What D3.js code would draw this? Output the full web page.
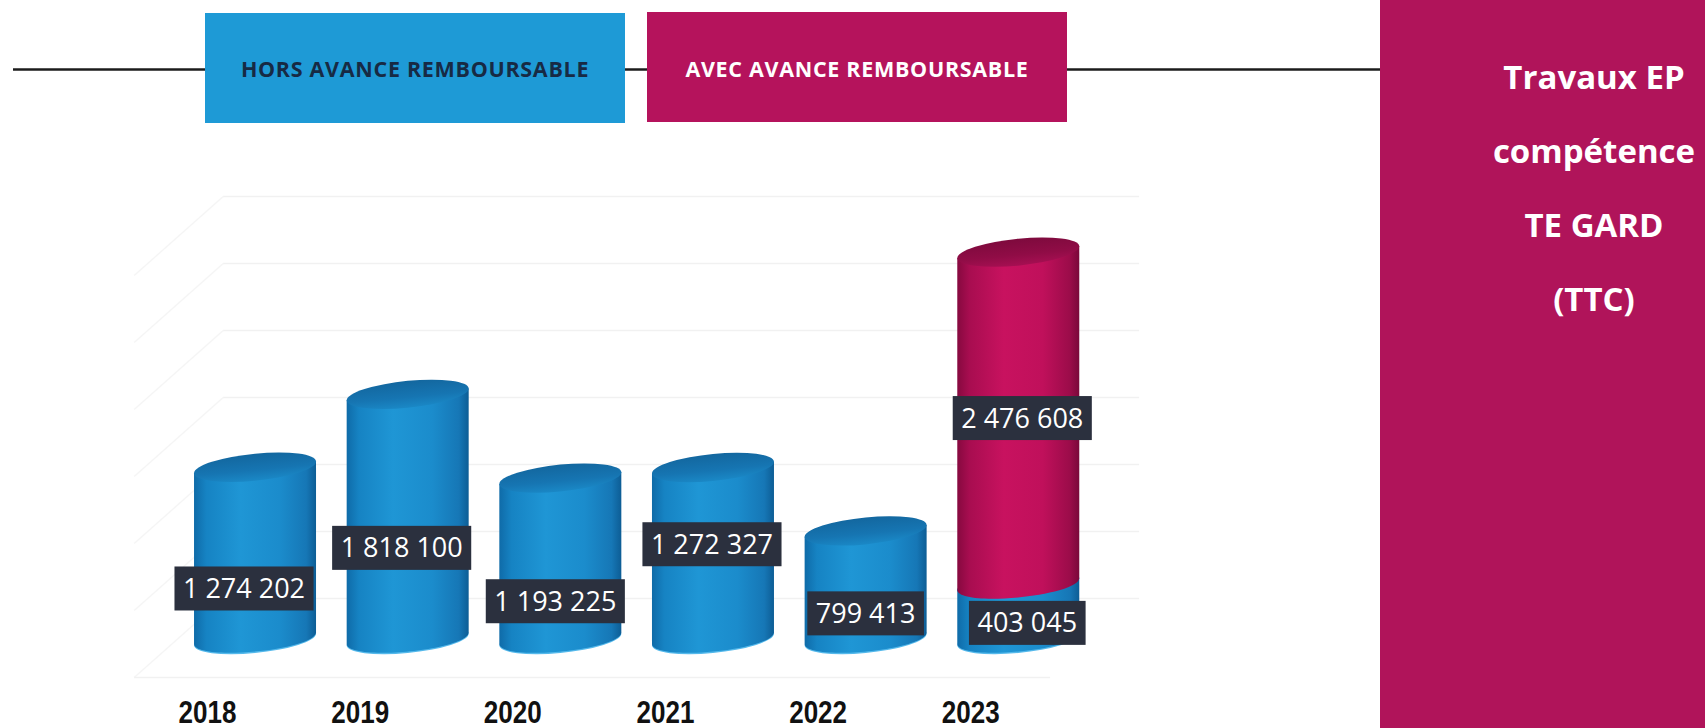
<!DOCTYPE html>
<html>
<head>
<meta charset="utf-8">
<script src="https://cdn.jsdelivr.net/npm/d3@7"></script>
<style>
  html, body { margin: 0; padding: 0; background: #ffffff; overflow: hidden; }
  svg { display: block; }
</style>
</head>
<body>
<svg id="chart" width="1705" height="728"></svg>
<script>
// ---- data ----
const years = ["2018", "2019", "2020", "2021", "2022", "2023"];
const horsAvance = [1274202, 1818100, 1193225, 1272327, 799413, 403045];
const avecAvance = [0, 0, 0, 0, 0, 2476608];
const seriesNames = ["HORS AVANCE REMBOURSABLE", "AVEC AVANCE REMBOURSABLE"];
const titleLines = ["Travaux EP", "compétence", "TE GARD", "(TTC)"];
const gridTicks = [0, 500000, 1000000, 1500000, 2000000, 2500000, 3000000];

// label placement: fraction of the segment height, and a small horizontal nudge
const labelAlong = [[0.29, 0.37, 0.23, 0.55, 0.23, 0.28], [0.5, 0.5, 0.5, 0.5, 0.5, 0.5]];
const labelNudge = [[-11, -6, -5, -1, 0, 9], [0, 0, 0, 0, 0, 4]];

// ---- styling ----
const BLUE = "#1e9ad6", MAGENTA = "#b5135c", PANEL = "#b0145a";
const fr = d3.formatLocale({ decimal: ",", thousands: " ", grouping: [3], currency: ["", " €"] });
const fmt = fr.format(",d");

const svg = d3.select("#chart");
const defs = svg.append("defs");

// ---- scales ----
const x = d3.scalePoint().domain(years).range([178.7, 1094.6]).padding(0.5);
const y = d3.scaleLinear().domain([0, 3000000]).range([638, 236]);
const RX = 61, RY = 13.5, SKEW = -5.5;
const DX = 44.5, DY = 39.5; // half depth of the 3D box

// ---- gradients ----
function hGrad(id, stops) {
  const g = defs.append("linearGradient").attr("id", id)
    .attr("x1", "0%").attr("x2", "100%").attr("y1", "0%").attr("y2", "0%");
  stops.forEach(([o, c]) => g.append("stop").attr("offset", o).attr("stop-color", c));
}
function vGrad(id, stops) {
  const g = defs.append("linearGradient").attr("id", id)
    .attr("x1", "0%").attr("x2", "0%").attr("y1", "0%").attr("y2", "100%");
  stops.forEach(([o, c]) => g.append("stop").attr("offset", o).attr("stop-color", c));
}
hGrad("blueBody", [["0%", "#0f6ba8"], ["10%", "#1683c3"], ["38%", "#1f96d5"], ["70%", "#1b8ccc"], ["92%", "#1677b6"], ["100%", "#0d5d95"]]);
vGrad("blueTop", [["0%", "#13679f"], ["60%", "#1675b2"], ["100%", "#1a88c6"]]);
hGrad("magBody", [["0%", "#86093f"], ["10%", "#a80d50"], ["38%", "#c8125f"], ["70%", "#c0105b"], ["92%", "#9c0c4a"], ["100%", "#7a083a"]]);
vGrad("magTop", [["0%", "#7e0a3d"], ["60%", "#900c46"], ["100%", "#a60f52"]]);
const palette = [
  { body: "url(#blueBody)", top: "url(#blueTop)", rim: "#2aa8e6" },
  { body: "url(#magBody)", top: "url(#magTop)", rim: "#c8125f" }
];

// ---- background walls (faint 3D frame) ----
const wall = svg.append("g").attr("stroke", "#f1f1f1").attr("stroke-width", 1.3).attr("fill", "none");
const [xr0, xr1] = x.range();
gridTicks.forEach(t => {
  const yb = y(t) - DY;
  wall.append("line").attr("x1", xr0 + DX).attr("x2", xr1 + DX).attr("y1", yb).attr("y2", yb);
  wall.append("line").attr("x1", xr0 + DX).attr("x2", xr0 - DX).attr("y1", yb).attr("y2", yb + 2 * DY)
    .attr("stroke", "#f5f5f5");
});
wall.append("line").attr("x1", xr0 - DX).attr("x2", xr1 - DX).attr("y1", y(0) + DY).attr("y2", y(0) + DY);

// ---- stacked cylinders ----
const rows = years.map((yr, i) => ({ year: yr, hors: horsAvance[i], avec: avecAvance[i] }));
const stack = d3.stack().keys(["hors", "avec"])(rows);

const cyl = svg.append("g");
years.forEach((yr, i) => {
  const cx = x(yr);
  stack.forEach((layer, s) => {
    const [v0, v1] = layer[i];
    if (v1 - v0 <= 0) return;
    const yb = y(v0), yt = y(v1);
    const g = cyl.append("g")
      .attr("transform", `translate(${cx},${y(0)}) skewY(${SKEW}) translate(${-cx},${-y(0)})`);
    const body = d3.path();
    body.moveTo(cx - RX, yt);
    body.lineTo(cx - RX, yb);
    body.bezierCurveTo(cx - RX, yb + RY * 1.333, cx + RX, yb + RY * 1.333, cx + RX, yb);
    body.lineTo(cx + RX, yt);
    body.closePath();
    if (s === 0) {
      // soft light edge along the base
      g.append("ellipse").attr("cx", cx).attr("cy", yb + 1.5).attr("rx", RX).attr("ry", RY)
        .attr("fill", palette[s].rim).attr("opacity", 0.8);
    }
    g.append("path").attr("d", body.toString()).attr("fill", palette[s].body);
    g.append("ellipse").attr("cx", cx).attr("cy", yt).attr("rx", RX).attr("ry", RY)
      .attr("fill", palette[s].top);
  });
});

// ---- value labels ----
const labels = svg.append("g")
  .attr("font-family", "'Open Sans', 'Noto Sans', sans-serif")
  .attr("font-size", 27).attr("fill", "#ffffff");
years.forEach((yr, i) => {
  stack.forEach((layer, s) => {
    const [v0, v1] = layer[i];
    const v = v1 - v0;
    if (v <= 0) return;
    const cx = x(yr) + labelNudge[s][i];
    const cy = y(v0 + v * labelAlong[s][i]);
    const lg = labels.append("g");
    const txt = lg.append("text").attr("x", cx).attr("y", cy + 9.5)
      .attr("text-anchor", "middle").text(fmt(v));
    const w = txt.node().getComputedTextLength() + 17;
    lg.insert("rect", "text").attr("x", cx - w / 2).attr("y", cy - 22)
      .attr("width", w).attr("height", 44).attr("fill", "#2b303e");
  });
});

// ---- category labels on the front edge ----
svg.append("g")
  .attr("font-family", "'Liberation Sans', Arial, sans-serif")
  .attr("font-weight", "bold").attr("font-size", 31).attr("fill", "#111111")
  .selectAll("text").data(years).join("text")
  .attr("transform", d => `translate(${x(d) - DX - 3},723) scale(0.84,1)`)
  .attr("text-anchor", "middle").text(d => d);

// ---- legend band ----
svg.append("line").attr("x1", 13).attr("x2", 1381).attr("y1", 69.5).attr("y2", 69.5)
  .attr("stroke", "#1c1c1c").attr("stroke-width", 2.6);
const legendBoxes = [
  { x: 205, y: 13, w: 420, h: 110, fill: BLUE, text: "#172a44" },
  { x: 647, y: 12, w: 420, h: 110, fill: MAGENTA, text: "#ffffff" }
];
const leg = svg.append("g");
seriesNames.forEach((name, k) => {
  const b = legendBoxes[k];
  leg.append("rect").attr("x", b.x).attr("y", b.y).attr("width", b.w).attr("height", b.h).attr("fill", b.fill);
  leg.append("text").attr("x", b.x + b.w / 2).attr("y", 77)
    .attr("text-anchor", "middle")
    .attr("font-family", "'Open Sans', 'Noto Sans', sans-serif")
    .attr("font-weight", "bold").attr("font-size", 21.5).attr("letter-spacing", 0.7)
    .attr("fill", b.text).text(name);
});

// ---- side panel with the title ----
svg.append("rect").attr("x", 1380).attr("y", 0).attr("width", 325).attr("height", 728).attr("fill", PANEL);
svg.append("g")
  .attr("font-family", "'Open Sans', 'Noto Sans', sans-serif")
  .attr("font-weight", "bold").attr("font-size", 33).attr("fill", "#ffffff")
  .attr("text-anchor", "middle")
  .selectAll("text").data(titleLines).join("text")
  .attr("x", 1594).attr("y", (d, i) => 89 + i * 74)
  .text(d => d);
</script>
</body>
</html>
